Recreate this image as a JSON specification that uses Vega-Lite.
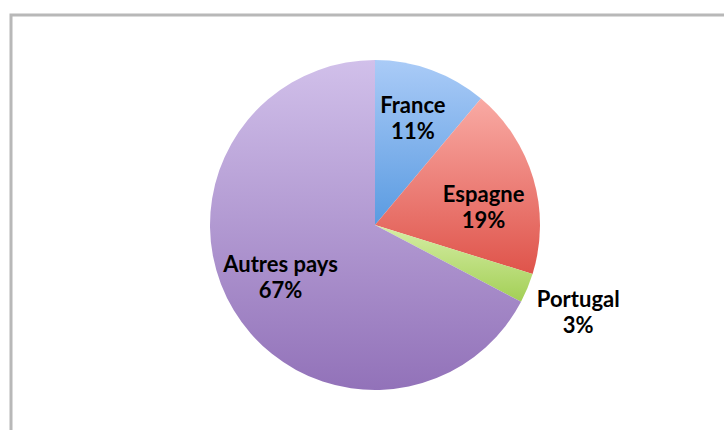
{
  "$schema": "https://vega.github.io/schema/vega-lite/v6.json",
  "width": 728,
  "height": 420,
  "autosize": {"type": "none"},
  "padding": {"left": 11, "top": 15, "right": -15, "bottom": -5},
  "background": "white",
  "view": {"stroke": "#b8b8b8", "strokeWidth": 3, "fill": "white"},
  "config": {"view": {"stroke": "#b8b8b8", "strokeWidth": 3}},
  "data": {
    "values": [
      {"pays": "France", "part": 11.1, "ordre": 1, "label": "France\n11%"},
      {"pays": "Espagne", "part": 18.7, "ordre": 2, "label": "Espagne\n19%"},
      {"pays": "Portugal", "part": 2.9, "ordre": 3, "label": "Portugal\n3%"},
      {"pays": "Autres pays", "part": 67.3, "ordre": 4, "label": "Autres pays\n67%"}
    ]
  },
  "encoding": {
    "theta": {"field": "part", "type": "quantitative", "stack": true},
    "order": {"field": "ordre", "type": "quantitative"}
  },
  "layer": [
    {
      "mark": {"type": "arc", "outerRadius": 165, "strokeWidth": 0},
      "encoding": {
        "fill": {
          "condition": [
            {"test": "datum.pays === 'France'", "value": {"gradient": "linear", "x1": 0, "y1": 0, "x2": 0, "y2": 1, "stops": [{"offset": 0, "color": "#aacbf7"}, {"offset": 1, "color": "#5a9be1"}]}},
            {"test": "datum.pays === 'Espagne'", "value": {"gradient": "linear", "x1": 0, "y1": 0, "x2": 0, "y2": 1, "stops": [{"offset": 0, "color": "#f9aaa4"}, {"offset": 1, "color": "#df544b"}]}},
            {"test": "datum.pays === 'Portugal'", "value": {"gradient": "linear", "x1": 0, "y1": 0, "x2": 0, "y2": 1, "stops": [{"offset": 0, "color": "#d6eea6"}, {"offset": 1, "color": "#a3cf56"}]}}
          ],
          "value": {"gradient": "linear", "x1": 0, "y1": 0, "x2": 0, "y2": 1, "stops": [{"offset": 0, "color": "#d1c0ea"}, {"offset": 1, "color": "#9272b9"}]}
        }
      }
    },
    {
      "mark": {"type": "text", "radius": 108, "dx": 1, "dy": -18, "font": "Lato", "fontWeight": "bold", "fontSize": 22, "lineBreak": "\n", "lineHeight": 26, "color": "#000000"},
      "encoding": {
        "text": {"condition": {"test": "datum.pays === 'France'", "field": "label", "type": "nominal"}, "value": ""}
      }
    },
    {
      "mark": {"type": "text", "radius": 108, "dx": 5, "dy": 0, "font": "Lato", "fontWeight": "bold", "fontSize": 22, "lineBreak": "\n", "lineHeight": 26, "color": "#000000"},
      "encoding": {
        "text": {"condition": {"test": "datum.pays === 'Espagne'", "field": "label", "type": "nominal"}, "value": ""}
      }
    },
    {
      "mark": {"type": "text", "radius": 220, "dx": 0, "dy": -9, "font": "Lato", "fontWeight": "bold", "fontSize": 22, "lineBreak": "\n", "lineHeight": 26, "color": "#000000"},
      "encoding": {
        "text": {"condition": {"test": "datum.pays === 'Portugal'", "field": "label", "type": "nominal"}, "value": ""}
      }
    },
    {
      "mark": {"type": "text", "radius": 108, "dx": -2, "dy": -16, "font": "Lato", "fontWeight": "bold", "fontSize": 22, "lineBreak": "\n", "lineHeight": 26, "color": "#000000"},
      "encoding": {
        "text": {"condition": {"test": "datum.pays === 'Autres pays'", "field": "label", "type": "nominal"}, "value": ""}
      }
    }
  ]
}
